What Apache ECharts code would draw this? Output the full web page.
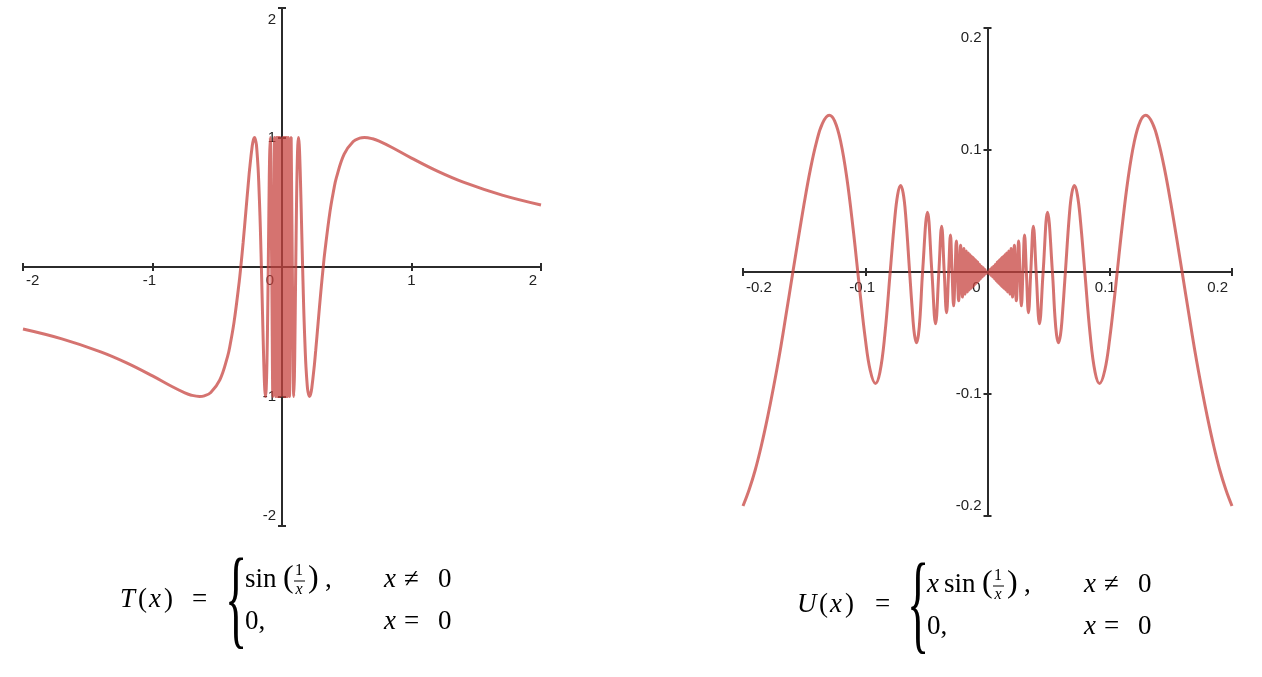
<!DOCTYPE html>
<html>
<head>
<meta charset="utf-8">
<script src="https://cdn.jsdelivr.net/npm/echarts@6/dist/echarts.min.js"></script>
<style>
html, body { margin: 0; padding: 0; background: #ffffff; }
#chart { width: 1262px; height: 677px; }
</style>
</head>
<body>
<div id="chart"></div>
<script>
// ---------- data ----------
// T(x) = sin(1/x), x < 0 part (ascending x)
const tNegative = [
  [-2.0, -0.479], [-1.7, -0.555], [-1.4, -0.655], [-1.2, -0.740], [-1.0, -0.841],
  [-0.85, -0.923], [-0.75, -0.972], [-0.7, -0.990], [-0.6366, -1], [-0.6, -0.995],
  [-0.55, -0.969], [-0.48, -0.872], [-0.42, -0.690], [-0.4, -0.598], [-0.37, -0.424],
  [-0.33, -0.111], [-0.3183, 0], [-0.3, 0.190], [-0.28, 0.418], [-0.26, 0.648],
  [-0.25, 0.757], [-0.23, 0.934], [-0.22, 0.986], [-0.2122, 1], [-0.2, 0.959],
  [-0.195, 0.916], [-0.185, 0.770], [-0.18, 0.665], [-0.17, 0.393], [-0.165, 0.220],
  [-0.1592, 0], [-0.153, -0.250], [-0.148, -0.457], [-0.143, -0.650], [-0.138, -0.823],
  [-0.133, -0.946], [-0.1273, -1], [-0.122, -0.941], [-0.118, -0.814], [-0.115, -0.666],
  [-0.112, -0.475], [-0.1061, 0], [-0.103, 0.280], [-0.1, 0.544], [-0.096, 0.837],
  [-0.0909, 1], [-0.0796, 0],
  [-0.0707, -1], [-0.0579, 1], [-0.0490, -1], [-0.0424, 1], [-0.0374, -1],
  [-0.0335, 1], [-0.0303, -1], [-0.0277, 1], [-0.0255, -1], [-0.0236, 1],
  [-0.0220, -1], [-0.0205, 1], [-0.0193, -1], [-0.0182, 1], [-0.0172, -1],
  [-0.0163, 1], [-0.0155, -1], [-0.0148, 1], [-0.0141, -1], [-0.0135, 1],
  [-0.0130, -1], [-0.0125, 1], [-0.0120, -1], [-0.0116, 1], [-0.0112, -1],
  [-0.0108, 1], [-0.0105, -1], [-0.0101, 1], [-0.0098, -1], [-0.0095, 1],
  [-0.0092, -1], [-0.0090, 1], [-0.0087, -1], [-0.0085, 1], [-0.0083, -1],
  [-0.0081, 1], [-0.0079, -1]
];
// T(x), x >= 0 part (ascending x)
const tPositive = [
  [0, 0],
  [0.0079, 1], [0.0081, -1], [0.0083, 1], [0.0085, -1], [0.0087, 1],
  [0.0090, -1], [0.0092, 1], [0.0095, -1], [0.0098, 1], [0.0101, -1],
  [0.0105, 1], [0.0108, -1], [0.0112, 1], [0.0116, -1], [0.0120, 1],
  [0.0125, -1], [0.0130, 1], [0.0135, -1], [0.0141, 1], [0.0148, -1],
  [0.0155, 1], [0.0163, -1], [0.0172, 1], [0.0182, -1], [0.0193, 1],
  [0.0205, -1], [0.0220, 1], [0.0236, -1], [0.0255, 1], [0.0277, -1],
  [0.0303, 1], [0.0335, -1], [0.0374, 1], [0.0424, -1], [0.0490, 1],
  [0.0579, -1], [0.0707, 1], [0.0796, 0], [0.0909, -1], [0.096, -0.837],
  [0.1, -0.544], [0.103, -0.280], [0.1061, 0], [0.112, 0.475], [0.115, 0.666],
  [0.118, 0.814], [0.122, 0.941], [0.1273, 1], [0.133, 0.946], [0.138, 0.823],
  [0.143, 0.650], [0.148, 0.457], [0.153, 0.250], [0.1592, 0], [0.165, -0.220],
  [0.17, -0.393], [0.18, -0.665], [0.185, -0.770], [0.195, -0.916], [0.2, -0.959],
  [0.2122, -1], [0.22, -0.986], [0.23, -0.934], [0.25, -0.757], [0.26, -0.648],
  [0.28, -0.418], [0.3, -0.190], [0.3183, 0], [0.33, 0.111], [0.37, 0.424],
  [0.4, 0.598], [0.42, 0.690], [0.48, 0.872], [0.55, 0.969], [0.6, 0.995],
  [0.6366, 1], [0.7, 0.990], [0.75, 0.972], [0.85, 0.923], [1.0, 0.841],
  [1.2, 0.740], [1.4, 0.655], [1.7, 0.555], [2.0, 0.479]
];
// U(x) = x sin(1/x), x < 0 part (ascending x)
const uNegative = [
  [-0.2000, -0.1918], [-0.1950, -0.1785], [-0.1900, -0.1623], [-0.1850, -0.1424],
  [-0.1800, -0.1196], [-0.1750, -0.0943], [-0.1700, -0.0668], [-0.1650, -0.0363],
  [-0.1592, 0], [-0.1550, 0.0260], [-0.1500, 0.0561], [-0.1450, 0.0835],
  [-0.1400, 0.1061], [-0.1350, 0.1218], [-0.1295, 0.1284], [-0.1250, 0.1237],
  [-0.1200, 0.1064], [-0.1150, 0.0766], [-0.1100, 0.0361], [-0.1061, 0],
  [-0.1040, -0.0197], [-0.1000, -0.0544], [-0.0960, -0.0803], [-0.0917, -0.0913],
  [-0.0880, -0.0821], [-0.0840, -0.0516], [-0.0796, 0], [-0.0760, 0.0424],
  [-0.0735, 0.0634], [-0.0711, 0.0709], [-0.0690, 0.0647], [-0.0670, 0.0472],
  [-0.0637, 0], [-0.0610, -0.0386], [-0.0597, -0.0516], [-0.0581, -0.0580],
  [-0.0565, -0.0516], [-0.0550, -0.0341], [-0.0531, 0], [-0.0491, 0.0490],
  [-0.0455, 0], [-0.0425, -0.0425], [-0.0398, 0], [-0.0375, 0.0375],
  [-0.0354, 0], [-0.0335, -0.0335], [-0.0318, 0], [-0.0303, 0.0303],
  [-0.0290, 0], [-0.0277, -0.0277], [-0.0265, 0], [-0.0255, 0.0255],
  [-0.0236, -0.0236], [-0.0220, 0.0220], [-0.0205, -0.0205], [-0.0193, 0.0193],
  [-0.0182, -0.0182], [-0.0172, 0.0172], [-0.0163, -0.0163], [-0.0155, 0.0155],
  [-0.0148, -0.0148], [-0.0141, 0.0141], [-0.0135, -0.0135], [-0.0130, 0.0130],
  [-0.0125, -0.0125], [-0.0120, 0.0120], [-0.0116, -0.0116], [-0.0112, 0.0112],
  [-0.0108, -0.0108], [-0.0105, 0.0105], [-0.0101, -0.0101], [-0.0098, 0.0098],
  [-0.0095, -0.0095], [-0.0092, 0.0092], [-0.0090, -0.0090], [-0.0087, 0.0087],
  [-0.0085, -0.0085], [-0.0083, 0.0083], [-0.0081, -0.0081], [-0.0079, 0.0079],
  [-0.0070, -0.0070], [-0.0062, 0.0062], [-0.0055, -0.0055], [-0.0048, 0.0048],
  [-0.0041, -0.0041], [-0.0034, 0.0034], [-0.0027, -0.0027], [-0.0020, 0.0020],
  [-0.0013, -0.0013]
];
// U(x), x >= 0 part (ascending x)
const uPositive = [
  [0, 0], [0.0013, -0.0013], [0.0020, 0.0020], [0.0027, -0.0027], [0.0034, 0.0034],
  [0.0041, -0.0041], [0.0048, 0.0048], [0.0055, -0.0055], [0.0062, 0.0062],
  [0.0070, -0.0070], [0.0079, 0.0079], [0.0081, -0.0081], [0.0083, 0.0083],
  [0.0085, -0.0085], [0.0087, 0.0087], [0.0090, -0.0090], [0.0092, 0.0092],
  [0.0095, -0.0095], [0.0098, 0.0098], [0.0101, -0.0101], [0.0105, 0.0105],
  [0.0108, -0.0108], [0.0112, 0.0112], [0.0116, -0.0116], [0.0120, 0.0120],
  [0.0125, -0.0125], [0.0130, 0.0130], [0.0135, -0.0135], [0.0141, 0.0141],
  [0.0148, -0.0148], [0.0155, 0.0155], [0.0163, -0.0163], [0.0172, 0.0172],
  [0.0182, -0.0182], [0.0193, 0.0193], [0.0205, -0.0205], [0.0220, 0.0220],
  [0.0236, -0.0236], [0.0255, 0.0255], [0.0265, 0], [0.0277, -0.0277],
  [0.0290, 0], [0.0303, 0.0303], [0.0318, 0], [0.0335, -0.0335], [0.0354, 0],
  [0.0375, 0.0375], [0.0398, 0], [0.0425, -0.0425], [0.0455, 0], [0.0491, 0.0490],
  [0.0531, 0], [0.0550, -0.0341], [0.0565, -0.0516], [0.0581, -0.0580],
  [0.0597, -0.0516], [0.0610, -0.0386], [0.0637, 0], [0.0670, 0.0472],
  [0.0690, 0.0647], [0.0711, 0.0709], [0.0735, 0.0634], [0.0760, 0.0424],
  [0.0796, 0], [0.0840, -0.0516], [0.0880, -0.0821], [0.0917, -0.0913],
  [0.0960, -0.0803], [0.1000, -0.0544], [0.1040, -0.0197], [0.1061, 0],
  [0.1100, 0.0361], [0.1150, 0.0766], [0.1200, 0.1064], [0.1250, 0.1237],
  [0.1295, 0.1284], [0.1350, 0.1218], [0.1400, 0.1061], [0.1450, 0.0835],
  [0.1500, 0.0561], [0.1550, 0.0260], [0.1592, 0], [0.1650, -0.0363],
  [0.1700, -0.0668], [0.1750, -0.0943], [0.1800, -0.1196], [0.1850, -0.1424],
  [0.1900, -0.1623], [0.1950, -0.1785], [0.2000, -0.1918]
];
// tick values
const tTicks = [-2, -1, 0, 1, 2];
const uTicks = [-0.2, -0.1, 0, 0.1, 0.2];

// ---------- styling ----------
const AXIS_COLOR = '#2b2b2b';
const CURVE_COLOR = '#c74440';
const SANS = '"Liberation Sans", Arial, sans-serif';
const SERIF = '"Liberation Serif", "DejaVu Serif", serif';

function richSet(cfg) {
  const base = { fontSize: 15, fontFamily: SANS, color: '#222' };
  return {
    n: Object.assign({}, base),
    m: Object.assign({ padding: cfg.negPad || [0, 0, 0, 0] }, base),
    p: Object.assign({ padding: cfg.posPad || [0, 0, 0, 0] }, base),
    a: Object.assign({ padding: cfg.padMin }, base),
    b: Object.assign({ padding: cfg.padMax }, base),
    z: Object.assign({ padding: cfg.zeroPad || [0, 0, 0, 0] }, base)
  };
}

function makeAxes(ticks, gridIndex, dim, cfg) {
  const min = ticks[0], max = ticks[ticks.length - 1];
  const interval = +(ticks[1] - ticks[0]).toFixed(6);
  const fmt = function (v) {
    if (Math.abs(v) < 1e-9) return dim === 'x' ? '{z|0}' : '';
    const s = String(+v.toFixed(6));
    if (Math.abs(v - min) < 1e-9) return '{a|' + s + '}';
    if (Math.abs(v - max) < 1e-9) return '{b|' + s + '}';
    return (v < 0 ? '{m|' : '{p|') + s + '}';
  };
  const common = {
    type: 'value', gridIndex: gridIndex, min: min, max: max, interval: interval,
    position: dim === 'x' ? 'bottom' : 'left',
    offset: cfg.offset,
    splitLine: { show: false },
    axisLine: { show: true, onZero: false, lineStyle: { color: AXIS_COLOR, width: 2 } }
  };
  const labelCfg = dim === 'x'
    ? { show: true, margin: cfg.margin, formatter: fmt, alignMinLabel: 'left', alignMaxLabel: 'right', rich: richSet(cfg) }
    : { show: true, margin: cfg.margin, formatter: fmt, verticalAlignMinLabel: 'bottom', verticalAlignMaxLabel: 'top', rich: richSet(cfg) };
  return [
    Object.assign({}, common, {
      axisTick: { show: true, inside: false, length: 4, lineStyle: { color: AXIS_COLOR, width: 2 } },
      axisLabel: labelCfg
    }),
    Object.assign({}, common, {
      axisTick: { show: true, inside: true, length: 4, lineStyle: { color: AXIS_COLOR, width: 2 } },
      axisLabel: { show: false }
    })
  ];
}

const xAxes = [].concat(
  makeAxes(tTicks, 0, 'x', { offset: -259, margin: 6, padMin: [0, 0, 0, 3], padMax: [0, 4, 0, 0],
    zeroPad: [0, 24, 0, 0], negPad: [0, 6, 0, 0] }),
  makeAxes(uTicks, 1, 'x', { offset: -244, margin: 8, padMin: [0, 0, 0, 3], padMax: [0, 4, 0, 0],
    zeroPad: [0, 22, 0, 0], negPad: [0, 6, 0, 0], posPad: [0, 9, 0, 0] })
);
const yAxes = [].concat(
  makeAxes(tTicks, 0, 'y', { offset: -259, margin: 6, padMin: [0, 0, 3, 0], padMax: [4, 0, 0, 0] }),
  makeAxes(uTicks, 1, 'y', { offset: -244.5, margin: 6, padMin: [0, 0, 3, 0], padMax: [2, 0, 0, 0] })
);

function curve(data, idx) {
  return {
    type: 'line', data: data, xAxisIndex: idx, yAxisIndex: idx,
    showSymbol: false, symbol: 'none', smooth: 0.4, silent: true, clip: true,
    lineStyle: { color: CURVE_COLOR, width: 3, opacity: 0.75 },
    emphasis: { disabled: true }, z: 3
  };
}

// ---------- formula captions ----------
function glyph(x, y, s, size, italic, align, extra) {
  const font = (italic ? 'italic ' : '') + size + 'px ' + SERIF;
  return Object.assign({
    type: 'text', silent: true, x: x, y: y,
    style: { x: 0, y: 0, text: s, fill: '#000', font: font,
             align: align || 'left', verticalAlign: 'middle',
             textAlign: align || 'left', textVerticalAlign: 'middle' }
  }, extra || {});
}
function formula(o) {
  const fs = 27;
  const els = [];
  const ax = o.axis;                 // centre line of "name(x) ="
  const r1 = o.row1, r2 = o.row2;    // middle of each row
  // name(x) =
  els.push(glyph(o.x0, ax, o.name, fs, true));
  els.push(glyph(o.x0 + o.nameW, ax, '(', fs, false));
  els.push(glyph(o.x0 + o.nameW + 11, ax, 'x', fs, true));
  els.push(glyph(o.x0 + o.nameW + 26, ax, ')', fs, false));
  els.push(glyph(o.eq, ax, '=', fs, false));
  // brace
  els.push(glyph(o.brace, o.braceMid, '{', 110, false, 'left', { scaleX: 0.42 }));
  // row 1
  let cx = o.c1;
  if (o.xFactor) { els.push(glyph(cx, r1, 'x', fs, true)); cx += 17; }
  els.push(glyph(cx, r1, 'sin', fs, false));
  cx += 38;
  els.push(glyph(cx, r1 - 1, '(', 32, false));
  const fc = cx + 16;
  els.push(glyph(fc, r1 - 9, '1', 16, false, 'center'));
  els.push({ type: 'line', silent: true, shape: { x1: fc - 5, y1: r1 + 1, x2: fc + 6, y2: r1 + 1 },
             style: { stroke: '#000', lineWidth: 1 } });
  els.push(glyph(fc, r1 + 10, 'x', 16, true, 'center'));
  els.push(glyph(fc + 9, r1 - 1, ')', 32, false));
  els.push(glyph(fc + 26, r1, ',', fs, false));
  els.push(glyph(o.c2, r1, 'x', fs, true));
  els.push(glyph(o.c2 + 20, r1, '≠', fs, false));
  els.push(glyph(o.c2 + 54, r1, '0', fs, false));
  // row 2
  els.push(glyph(o.c1, r2, '0,', fs, false));
  els.push(glyph(o.c2, r2, 'x', fs, true));
  els.push(glyph(o.c2 + 20, r2, '=', fs, false));
  els.push(glyph(o.c2 + 54, r2, '0', fs, false));
  return els;
}

const graphics = [].concat(
  formula({ name: 'T', x0: 120, nameW: 18, eq: 192, axis: 600, row1: 580, row2: 622,
            brace: 225, braceMid: 605, c1: 245, c2: 384 }),
  formula({ name: 'U', x0: 797, nameW: 22, eq: 875, axis: 605, row1: 585, row2: 627,
            brace: 907, braceMid: 610, c1: 927, c2: 1084, xFactor: true })
);

const option = {
  animation: false,
  backgroundColor: '#ffffff',
  grid: [
    { left: 23, top: 8, width: 518, height: 518, outerBoundsMode: 'none', containLabel: false },
    { left: 743, top: 28, width: 489, height: 488, outerBoundsMode: 'none', containLabel: false }
  ],
  xAxis: xAxes,
  yAxis: yAxes,
  series: [
    curve(tNegative.concat(tPositive), 0),
    curve(uNegative.concat(uPositive), 2)
  ],
  graphic: { elements: graphics }
};

const chart = echarts.init(document.getElementById('chart'), null, { renderer: 'canvas' });
chart.setOption(option);
</script>
</body>
</html>
